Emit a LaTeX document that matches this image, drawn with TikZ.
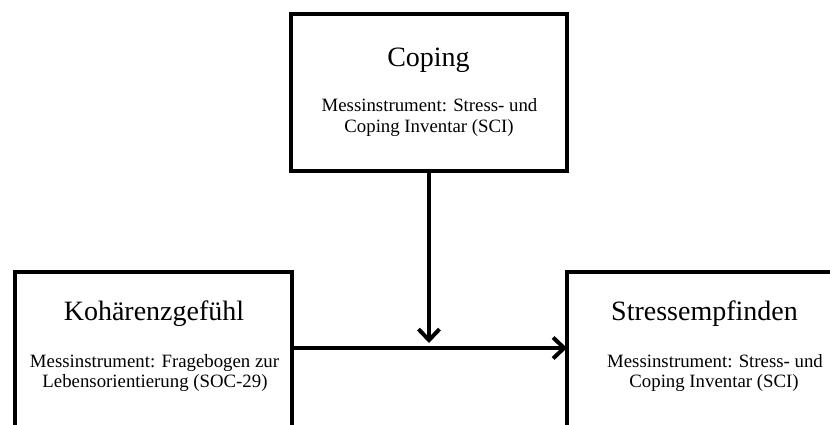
\documentclass[tikz,border=0pt]{standalone}
\usepackage{fontspec}
\setmainfont{Liberation Serif}
\usetikzlibrary{arrows.meta}

\begin{document}
\begin{tikzpicture}[x=1pt,y=-1pt,
  box/.style={draw=black, line width=4pt, fill=white, inner sep=0pt, outer sep=0pt},
  heading/.style={anchor=base, inner sep=0pt, font=\fontsize{28}{32}\selectfont},
  detail/.style={anchor=base, inner sep=0pt, font=\fontsize{18.8}{21}\selectfont},
  link/.style={line width=4pt, -{Straight Barb[length=11pt, width=21pt]}}]

  \useasboundingbox (0,0) rectangle (830,425);
  \clip (0,0) rectangle (830,425);

  % three construct boxes (the lower two run past the page edges)
  \node[box, minimum width=276pt, minimum height=157pt] (coping) at (429,92.5) {};
  \node[box, minimum width=277pt, minimum height=190pt] (soc) at (153.5,367) {};
  \node[box, minimum width=285pt, minimum height=190pt] (stress) at (709.5,367) {};

  % texts of the upper box
  \node[heading] (copingT) at (428.5,67) {Coping};
  \node[detail] (copingA) at (429.5,112) {Messinstrument: Stress- und};
  \node[detail] (copingB) at (429,132) {Coping Inventar (SCI)};

  % texts of the left box
  \node[heading] (socT) at (154,320) {Kohärenzgefühl};
  \node[detail] (socA) at (154.5,367) {Messinstrument: Fragebogen zur};
  \node[detail] (socB) at (155,387) {Lebensorientierung (SOC-29)};

  % texts of the right box
  \node[heading] (stressT) at (704.5,320) {Stressempfinden};
  \node[detail] (stressA) at (715,367) {Messinstrument: Stress- und};
  \node[detail] (stressB) at (714,387) {Coping Inventar (SCI)};

  % main path and the moderating arrow meeting it
  \coordinate (meet) at (429,348);
  \draw[link] (soc.east |- meet) -- (stress.west |- meet);
  \draw[link, shorten >=5pt] (coping.south) -- (meet);
\end{tikzpicture}
\end{document}
